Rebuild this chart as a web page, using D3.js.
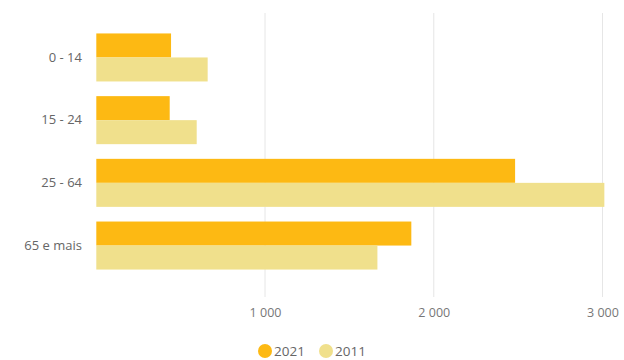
<!DOCTYPE html>
<html>
<head>
<meta charset="utf-8">
<script src="https://cdn.jsdelivr.net/npm/d3@7"></script>
<style>
  body { margin: 0; background: #fff; }
  svg { display: block; font-family: "Segoe UI", "Open Sans", "Noto Sans", sans-serif; }
</style>
</head>
<body>
<svg id="chart" width="624" height="360"></svg>
<script>
const categories = ["0 - 14", "15 - 24", "25 - 64", "65 e mais"];
const series = ["2021", "2011"];
const values2021 = [443, 435, 2482, 1867];
const values2011 = [660, 595, 3011, 1666];
const tickValues = [1000, 2000, 3000];
const colors = ["#fdb913", "#f0e08c"];

const svg = d3.select("#chart");

const x = d3.scaleLinear().domain([0, 3000]).range([96.3, 602.5]);
const y = d3.scaleBand().domain(categories).range([13, 290])
	.paddingInner(0.234).paddingOuter(0.326);
const ySub = d3.scaleBand().domain(series).range([0, y.bandwidth()]);

const fmt = d3.formatLocale({ decimal: ",", thousands: " ", grouping: [3], currency: ["", "€"] }).format(",d");

// grid lines
svg.append("g")
	.selectAll("line")
	.data(tickValues)
	.join("line")
	.attr("x1", d => x(d))
	.attr("x2", d => x(d))
	.attr("y1", 13)
	.attr("y2", 297)
	.attr("stroke", "#e6e6e6")
	.attr("stroke-width", 1);

// x axis labels
const xAxis = svg.append("g")
	.attr("transform", "translate(0,290)")
	.call(d3.axisBottom(x).tickValues(tickValues).tickFormat(fmt).tickSize(0).tickPadding(18));
xAxis.select(".domain").remove();
xAxis.selectAll("text")
	.attr("fill", "#777")
	.attr("font-size", "12.5px")
	.attr("font-family", "\"Segoe UI\", \"Open Sans\", sans-serif");

// y axis labels
const yAxis = svg.append("g")
	.attr("transform", "translate(96,0)")
	.call(d3.axisLeft(y).tickSize(0).tickPadding(14));
yAxis.select(".domain").remove();
yAxis.selectAll("text")
	.attr("fill", "#666")
	.attr("font-size", "13px")
	.attr("font-family", "\"Segoe UI\", \"Open Sans\", sans-serif");

// bars
const rows = categories.map((c, i) => ({ cat: c, vals: [values2021[i], values2011[i]] }));
svg.append("g")
	.selectAll("g")
	.data(rows)
	.join("g")
	.attr("transform", d => `translate(0,${y(d.cat)})`)
	.selectAll("rect")
	.data(d => d.vals.map((v, j) => ({ key: series[j], v, j })))
	.join("rect")
	.attr("x", x(0))
	.attr("y", d => ySub(d.key))
	.attr("width", d => x(d.v) - x(0))
	.attr("height", ySub.bandwidth())
	.attr("fill", d => colors[d.j]);

// legend
const legendX = [265, 326];
const legend = svg.append("g")
	.selectAll("g")
	.data(series)
	.join("g")
	.attr("transform", (d, i) => `translate(${legendX[i]},351)`);
legend.append("circle")
	.attr("r", 7)
	.attr("fill", (d, i) => colors[i]);
legend.append("text")
	.attr("x", 9)
	.attr("y", 5)
	.attr("fill", "#666")
	.attr("font-size", "13.5px")
	.text(d => d);
</script>
</body>
</html>
